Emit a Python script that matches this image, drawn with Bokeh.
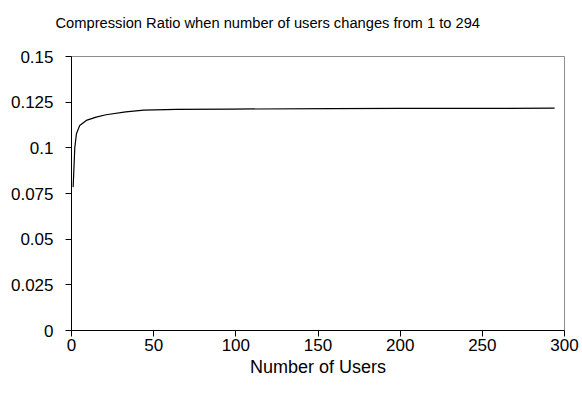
from bokeh.plotting import figure
from bokeh.models import Range1d, FixedTicker, Title
from bokeh.embed import file_html
from bokeh.resources import INLINE

# Data
users = [1, 2, 3, 5, 9, 15, 21, 33, 44, 64, 97, 158, 200, 250, 294]
ratio = [0.0785, 0.1, 0.1077, 0.1122, 0.115, 0.1168, 0.1181, 0.1197, 0.1206,
         0.121, 0.1212, 0.1215, 0.1216, 0.1216, 0.1217]

x_ticks = [0, 50, 100, 150, 200, 250, 300]
y_ticks = [0, 0.025, 0.05, 0.075, 0.1, 0.125, 0.15]
y_tick_labels = ["0", "0.025", "0.05", "0.075", "0.1", "0.125", "0.15"]

title_text = "Compression Ratio when number of users changes from 1 to 294"
x_label = "Number of Users"

FONT = "Liberation Sans"

p = figure(width=580, height=392, output_backend="svg", toolbar_location=None,
           x_range=Range1d(0, 300), y_range=Range1d(0, 0.15),
           min_border_left=71, min_border_right=16, min_border_top=56,
           min_border_bottom=62)

# trailing empty line lifts the title away from the plot frame
p.add_layout(Title(text=title_text + "\n ", align="left", offset=-16,
                   text_font=FONT, text_font_size="14.7px",
                   text_font_style="normal", text_color="black",
                   standoff=20), "above")

p.line(users, ratio, line_color="black", line_width=1.2)

p.xgrid.visible = False
p.ygrid.visible = False
p.outline_line_color = "#8c8c8c"
p.outline_line_width = 1
p.background_fill_color = "white"
p.border_fill_color = "white"

p.xaxis.ticker = FixedTicker(ticks=x_ticks)
p.yaxis.ticker = FixedTicker(ticks=y_ticks)
p.yaxis.major_label_overrides = {t: l for t, l in zip(y_ticks, y_tick_labels)}
p.xaxis.axis_label = x_label

for ax in (p.xaxis[0], p.yaxis[0]):
    ax.axis_line_color = "black"
    ax.axis_line_width = 1
    ax.major_tick_line_color = "black"
    ax.major_tick_out = 6
    ax.major_tick_in = 0
    ax.minor_tick_line_color = None
    ax.major_label_text_font = FONT
    ax.major_label_text_font_size = "17px"
    ax.major_label_text_color = "black"

p.yaxis.major_label_standoff = 12
p.xaxis.major_label_standoff = 2
p.xaxis.axis_label_text_font = FONT
p.xaxis.axis_label_text_font_size = "18px"
p.xaxis.axis_label_text_font_style = "normal"
p.xaxis.axis_label_text_color = "black"
p.xaxis.axis_label_standoff = 3

open("out.html", "w").write(file_html(p, INLINE))
